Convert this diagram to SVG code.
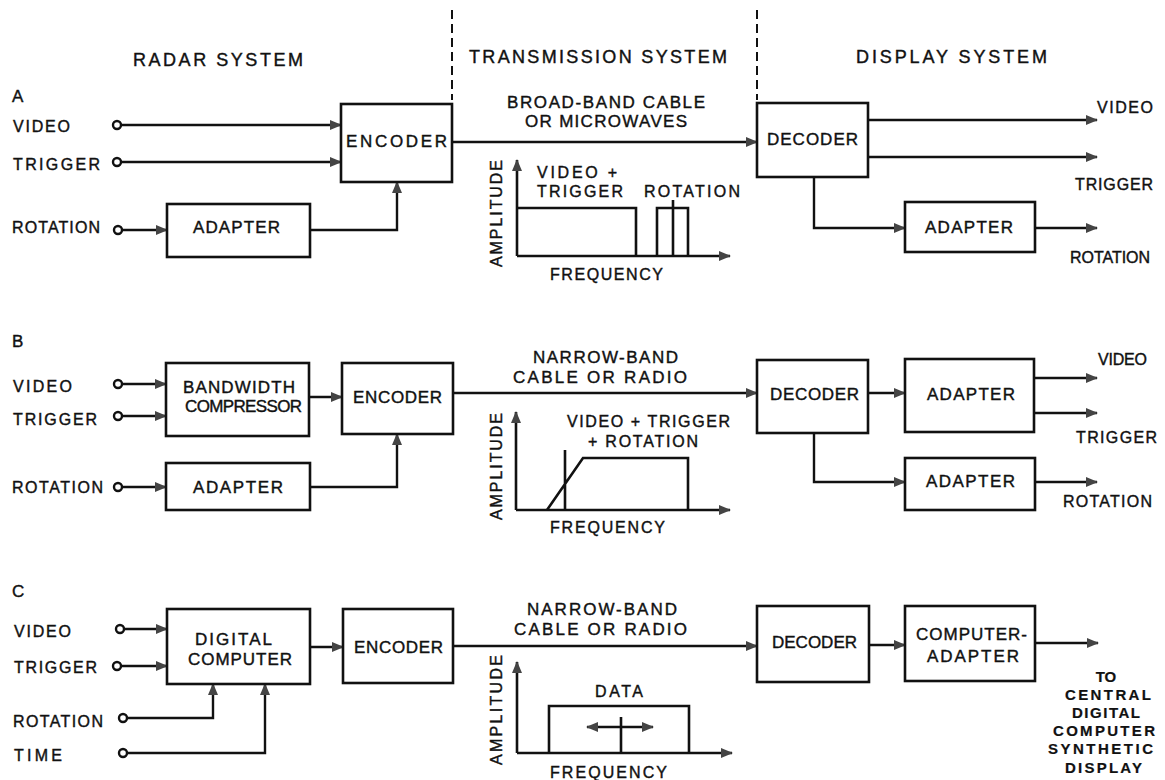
<svg xmlns="http://www.w3.org/2000/svg" width="1165" height="780" viewBox="0 0 1165 780">
<defs>
<style>
text{font-family:"Liberation Sans",Arial,sans-serif;fill:#111;font-size:16px;stroke:#111;stroke-width:0.4}
.h{font-size:18px}
.b{font-size:17px}
.s{font-size:15px;font-weight:bold;stroke-width:0.2}
.m{text-anchor:middle}
rect{fill:#fff;stroke:#111;stroke-width:2.6}
.ln{fill:none;stroke:#111;stroke-width:2.4}
.ax{fill:none;stroke:#111;stroke-width:2.6}
.dash{fill:none;stroke:#111;stroke-width:2;stroke-dasharray:9 5}
circle{fill:#fff;stroke:#111;stroke-width:2.4}
</style>
<marker id="ar" viewBox="0 0 12 10" refX="11" refY="5" markerWidth="12" markerHeight="10" markerUnits="userSpaceOnUse" orient="auto-start-reverse">
<path d="M0,0 L12,5 L0,10 Z" fill="#444"/>
</marker>
</defs>

<g id="headers">
<text class="h" x="133" y="66" textLength="170">RADAR SYSTEM</text>
<text class="h" x="469" y="63" textLength="258">TRANSMISSION SYSTEM</text>
<text class="h" x="856" y="63" textLength="191">DISPLAY SYSTEM</text>
<path class="dash" d="M452,10 V100 M757,10 V100"/>
<text class="b" x="12" y="102">A</text>
<text class="b" x="12" y="347">B</text>
<text class="b" x="12" y="597">C</text>
</g>

<g id="connectors">
<!-- Row A -->
<path class="ln" d="M121,125 H341" marker-end="url(#ar)"/>
<path class="ln" d="M121,162 H341" marker-end="url(#ar)"/>
<path class="ln" d="M122,230 H167" marker-end="url(#ar)"/>
<path class="ln" d="M310,230 H397 V182" marker-end="url(#ar)"/>
<path class="ln" d="M452,142 H757" marker-end="url(#ar)"/>
<path class="ln" d="M868,120 H1097" marker-end="url(#ar)"/>
<path class="ln" d="M868,157 H1097" marker-end="url(#ar)"/>
<path class="ln" d="M814,177 V228 H905" marker-end="url(#ar)"/>
<path class="ln" d="M1035,228 H1097" marker-end="url(#ar)"/>
<!-- Row B -->
<path class="ln" d="M122,384 H166" marker-end="url(#ar)"/>
<path class="ln" d="M122,416 H166" marker-end="url(#ar)"/>
<path class="ln" d="M309,397 H342" marker-end="url(#ar)"/>
<path class="ln" d="M122,487 H166" marker-end="url(#ar)"/>
<path class="ln" d="M310,487 H397 V434" marker-end="url(#ar)"/>
<path class="ln" d="M453,393 H757" marker-end="url(#ar)"/>
<path class="ln" d="M868,393 H905" marker-end="url(#ar)"/>
<path class="ln" d="M1034,378 H1097" marker-end="url(#ar)"/>
<path class="ln" d="M1034,413 H1097" marker-end="url(#ar)"/>
<path class="ln" d="M814,433 V482 H905" marker-end="url(#ar)"/>
<path class="ln" d="M1035,482 H1097" marker-end="url(#ar)"/>
<!-- Row C -->
<path class="ln" d="M124,629 H167" marker-end="url(#ar)"/>
<path class="ln" d="M121,666 H167" marker-end="url(#ar)"/>
<path class="ln" d="M310,647 H343" marker-end="url(#ar)"/>
<path class="ln" d="M127,718 H213 V684" marker-end="url(#ar)"/>
<path class="ln" d="M127,753 H265 V684" marker-end="url(#ar)"/>
<path class="ln" d="M453,646 H757" marker-end="url(#ar)"/>
<path class="ln" d="M869,645 H905" marker-end="url(#ar)"/>
<path class="ln" d="M1035,643 H1098" marker-end="url(#ar)"/>
</g>

<g id="terminals">
<circle cx="117" cy="125" r="4"/>
<circle cx="117" cy="162" r="4"/>
<circle cx="118" cy="230" r="4"/>
<circle cx="118" cy="384" r="4"/>
<circle cx="118" cy="416" r="4"/>
<circle cx="118" cy="487" r="4"/>
<circle cx="120" cy="629" r="4"/>
<circle cx="117" cy="666" r="4"/>
<circle cx="123" cy="718" r="4"/>
<circle cx="123" cy="753" r="4"/>
</g>

<g id="labels-in">
<text x="13" y="132" textLength="57">VIDEO</text>
<text x="13" y="170" textLength="87">TRIGGER</text>
<text x="12" y="233" textLength="88">ROTATION</text>
<text x="13" y="392" textLength="59">VIDEO</text>
<text x="13" y="425" textLength="84">TRIGGER</text>
<text x="12" y="493" textLength="91">ROTATION</text>
<text x="14" y="637" textLength="57">VIDEO</text>
<text x="14" y="673" textLength="83">TRIGGER</text>
<text x="13" y="727" textLength="90">ROTATION</text>
<text x="14" y="761" textLength="48">TIME</text>
</g>

<g id="labels-out">
<text x="1097" y="113" textLength="56">VIDEO</text>
<text x="1075" y="190" textLength="78">TRIGGER</text>
<text x="1070" y="263" textLength="80">ROTATION</text>
<text x="1098" y="365" textLength="49">VIDEO</text>
<text x="1076" y="443" textLength="81">TRIGGER</text>
<text x="1063" y="507" textLength="89">ROTATION</text>
<text class="s m" x="1106" y="682">TO</text>
<text class="s" x="1065" y="700" textLength="86">CENTRAL</text>
<text class="s" x="1072" y="718" textLength="68">DIGITAL</text>
<text class="s" x="1053" y="736" textLength="102">COMPUTER</text>
<text class="s" x="1048" y="754" textLength="105">SYNTHETIC</text>
<text class="s" x="1065" y="773" textLength="77">DISPLAY</text>
</g>

<g id="A-encoder"><rect x="341" y="104" width="111" height="78"/><text class="b" x="346" y="147" textLength="101">ENCODER</text></g>
<g id="A-adapter"><rect x="167" y="204" width="143" height="53"/><text class="b" x="193" y="233" textLength="87">ADAPTER</text></g>
<g id="A-decoder"><rect x="757" y="103" width="111" height="74"/><text class="b" x="767" y="145" textLength="91">DECODER</text></g>
<g id="A-adapter-out"><rect x="905" y="202" width="130" height="50"/><text class="b" x="925" y="233" textLength="88">ADAPTER</text></g>

<g id="B-compressor"><rect x="166" y="363" width="143" height="73"/><text class="b" x="183" y="393" textLength="112">BANDWIDTH</text><text class="b" x="185" y="412" textLength="117">COMPRESSOR</text></g>
<g id="B-encoder"><rect x="342" y="363" width="111" height="71"/><text class="b" x="353" y="403" textLength="89">ENCODER</text></g>
<g id="B-adapter"><rect x="166" y="463" width="144" height="47"/><text class="b" x="193" y="493" textLength="90">ADAPTER</text></g>
<g id="B-decoder"><rect x="757" y="360" width="111" height="73"/><text class="b" x="770" y="400" textLength="89">DECODER</text></g>
<g id="B-adapter1"><rect x="905" y="359" width="129" height="73"/><text class="b" x="927" y="400" textLength="88">ADAPTER</text></g>
<g id="B-adapter2"><rect x="905" y="458" width="130" height="52"/><text class="b" x="926" y="487" textLength="89">ADAPTER</text></g>

<g id="C-computer"><rect x="167" y="609" width="143" height="75"/><text class="b" x="195" y="645" textLength="77">DIGITAL</text><text class="b" x="188" y="665" textLength="104">COMPUTER</text></g>
<g id="C-encoder"><rect x="343" y="609" width="110" height="74"/><text class="b" x="354" y="653" textLength="89">ENCODER</text></g>
<g id="C-decoder"><rect x="757" y="606" width="112" height="76"/><text class="b" x="772" y="648" textLength="85">DECODER</text></g>
<g id="C-comp-adapter"><rect x="905" y="606" width="130" height="75"/><text class="b" x="916" y="640" textLength="111">COMPUTER-</text><text class="b" x="927" y="662" textLength="92">ADAPTER</text></g>

<g id="A-transmission">
<text class="b" x="507" y="108" textLength="198">BROAD-BAND CABLE</text>
<text class="b" x="525" y="127" textLength="162">OR MICROWAVES</text>
<path class="ax" d="M517,256 V160" marker-end="url(#ar)"/>
<path class="ax" d="M517,256 H730" marker-end="url(#ar)"/>
<path class="ax" d="M517,208 H636 V256 M657,256 V208 H688 V256 M673,200 V256"/>
<text x="537" y="178" textLength="80">VIDEO +</text>
<text x="537" y="197" textLength="86">TRIGGER</text>
<text x="644" y="197" textLength="96">ROTATION</text>
<text x="550" y="280" textLength="113">FREQUENCY</text>
<text transform="translate(502,267) rotate(-90)" x="0" y="0" textLength="107">AMPLITUDE</text>
</g>

<g id="B-transmission">
<text class="b" x="533" y="363" textLength="145">NARROW-BAND</text>
<text class="b" x="513" y="383" textLength="174">CABLE OR RADIO</text>
<path class="ax" d="M516,510 V412" marker-end="url(#ar)"/>
<path class="ax" d="M516,510 H730" marker-end="url(#ar)"/>
<path class="ax" d="M547,510 L583,458 H688 V510 M565,450 V510"/>
<text x="567" y="427" textLength="163">VIDEO + TRIGGER</text>
<text x="588" y="447" textLength="110">+ ROTATION</text>
<text x="550" y="533" textLength="115">FREQUENCY</text>
<text transform="translate(502,520) rotate(-90)" x="0" y="0" textLength="107">AMPLITUDE</text>
</g>

<g id="C-transmission">
<text class="b" x="527" y="615" textLength="150">NARROW-BAND</text>
<text class="b" x="514" y="635" textLength="173">CABLE OR RADIO</text>
<path class="ax" d="M517,753 V662" marker-end="url(#ar)"/>
<path class="ax" d="M517,753 H732" marker-end="url(#ar)"/>
<path class="ax" d="M549,753 V706 H689 V753 M621,717 V753"/>
<path class="ax" d="M587,727 H653" marker-start="url(#ar)" marker-end="url(#ar)"/>
<text x="595" y="697" textLength="48">DATA</text>
<text x="550" y="778" textLength="117">FREQUENCY</text>
<text transform="translate(502,765) rotate(-90)" x="0" y="0" textLength="110">AMPLITUDE</text>
</g>
</svg>
